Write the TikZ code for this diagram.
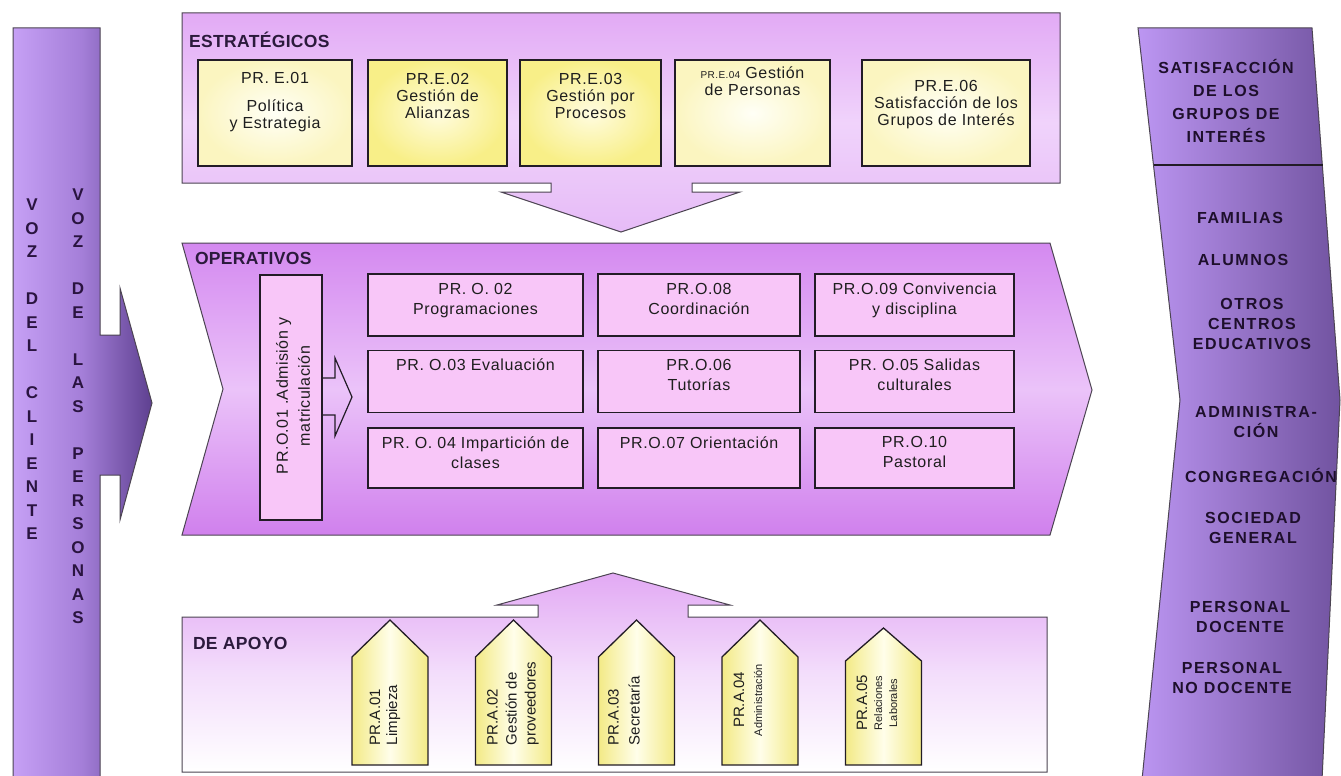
\documentclass[tikz,border=0pt]{standalone}
\usepackage{fontspec}
\setmainfont{Liberation Sans}
\usetikzlibrary{calc}
\definecolor{boxline}{HTML}{221C26}
\definecolor{panelline}{HTML}{4C4452}
\definecolor{txt}{HTML}{1E1E1E}
\definecolor{htxt}{HTML}{2B1A3C}
\definecolor{vtxt}{HTML}{2A1440}
\definecolor{rtxtc}{HTML}{1E0F2C}
\definecolor{barL}{HTML}{C6A0F5}
\definecolor{barM}{HTML}{A47ED8}
\definecolor{barR}{HTML}{5E4090}
\definecolor{rpL}{HTML}{BC96F2}
\definecolor{rpR}{HTML}{7153A0}
\definecolor{estT}{HTML}{E2AAF5}
\definecolor{estM}{HTML}{F0D3FB}
\definecolor{estB}{HTML}{E6BBF7}
\definecolor{opT}{HTML}{D489F0}
\definecolor{opM}{HTML}{EBC3F9}
\definecolor{opB}{HTML}{D080ED}
\definecolor{apT}{HTML}{E2A9F4}
\definecolor{apM}{HTML}{F3DDFB}
\definecolor{obox}{HTML}{F8C6F8}
\definecolor{creamO}{HTML}{FBF5C0}
\definecolor{creamI}{HTML}{FFFFF6}
\definecolor{yelO}{HTML}{F8EF88}
\definecolor{yelI}{HTML}{FFFCE0}
\definecolor{tagY}{HTML}{F3EA86}
\definecolor{tagI}{HTML}{FFFEEA}
\begin{document}
\begin{tikzpicture}[x=1pt,y=-1pt,
  every node/.style={inner sep=0pt,outer sep=0pt,text=txt},
  panel/.style={draw=panelline,line width=1pt},
  ebox/.style={draw=boxline,line width=1.5pt,inner color=creamI,outer color=creamO,minimum height=106pt},
  ybox/.style={ebox,inner color=yelI,outer color=yelO},
  obx/.style={draw=boxline,line width=1.5pt,fill=obox,minimum height=60pt},
  head/.style={font=\bfseries\fontsize{17.5}{20}\selectfont\addfontfeatures{LetterSpace=2},text=htxt,anchor=west},
  btxt/.style={font=\fontsize{16}{17}\selectfont\addfontfeatures{LetterSpace=4},align=center,anchor=north,execute at begin node={\rule{0pt}{12pt}}},
  gtxt/.style={btxt,font=\fontsize{16}{20}\selectfont\addfontfeatures{LetterSpace=4}},
  vl/.style={font=\bfseries\fontsize{17}{17}\selectfont,text=vtxt},
  rtx/.style={font=\bfseries\fontsize{16}{20}\selectfont\addfontfeatures{LetterSpace=10},text=rtxtc,align=center},
  rtxa/.style={rtx,font=\bfseries\fontsize{16}{22.7}\selectfont\addfontfeatures{LetterSpace=10}},
  tagtxt/.style={rotate=90,font=\fontsize{15}{17}\selectfont,align=left,anchor=west},
  tagshape/.style={draw=boxline,line width=1.3pt,left color=tagY,right color=tagY,middle color=tagI},
]
\fill[white] (0,0) rectangle (1341,776);
\useasboundingbox (0,0) rectangle (1341,776);

% left bar with arrow
\shade[panel,left color=barL,right color=barR,middle color=barM]
  (13,28) -- (100,28) -- (100,335) -- (120,335) -- (120,288) -- (152,403)
  -- (120,520) -- (120,475) -- (100,475) -- (100,780) -- (13,780) -- cycle;
\foreach \ch/\k in {V/0,O/1,Z/2,D/4,E/5,L/6,C/8,L/9,I/10,E/11,N/12,T/13,E/14}
  \node[vl] (vc\k) at (32,205+23.5*\k) {\ch};
\foreach \ch/\k in {V/0,O/1,Z/2,D/4,E/5,L/7,A/8,S/9,P/11,E/12,R/13,S/14,O/15,N/16,A/17,S/18}
  \node[vl] (vp\k) at (78,195+23.5*\k) {\ch};

% right panel
\shade[panel,left color=rpL,right color=rpR]
  (1138,28) -- (1312,28) -- (1340,400) -- (1322,780) -- (1142,780) -- (1180,400) -- cycle;
\draw[boxline,line width=1.2pt] (1153.5,165) -- (1322.7,165);
\node[rtxa] (sat) at (1226,101) {SATISFACCIÓN\\DE LOS\\GRUPOS DE\\INTERÉS};
\node[rtx] (g1) at (1240,218) {FAMILIAS};
\node[rtx] (g2) at (1243,260) {ALUMNOS};
\node[rtx] (g3) at (1252,324) {OTROS\\CENTROS\\EDUCATIVOS};
\node[rtx] (g4) at (1256,422) {ADMINISTRA-\\CIÓN};
\node[rtx] (g5) at (1261,475) {CONGREGACIÓN};
\node[rtx] (g6) at (1253,528) {SOCIEDAD\\GENERAL};
\node[rtx] (g7) at (1240,617) {PERSONAL\\DOCENTE};
\node[rtx] (g8) at (1232,678) {PERSONAL\\NO DOCENTE};

% strategic panel
\shade[panel,top color=estT,bottom color=estB,middle color=estM]
  (182,13) -- (1060,13) -- (1060,183) -- (692,183) -- (692,192) -- (740,192)
  -- (621,232) -- (501,192) -- (551,192) -- (551,183) -- (182,183) -- cycle;
\node[head] (hest) at (189,40) {ESTRATÉGICOS};
\node[ebox,minimum width=154pt] (e01) at (275,113) {};
\node[ybox,minimum width=139pt] (e02) at (437.5,113) {};
\node[ybox,minimum width=141pt] (e03) at (590.5,113) {};
\node[ebox,minimum width=155pt] (e04) at (752.5,113) {};
\node[ebox,minimum width=168pt] (e06) at (946,113) {};
\node[btxt] (te01) at ($(e01.north)+(0,12.4)$) {PR. E.01\\[11pt]Política\\y Estrategia};
\node[btxt] (te02) at ($(e02.north)+(0,13.4)$) {PR.E.02\\Gestión de\\Alianzas};
\node[btxt] (te03) at ($(e03.north)+(0,13.4)$) {PR.E.03\\Gestión por\\Procesos};
\node[btxt] (te04) at ($(e04.north)+(0,6.4)$) {{\fontsize{10}{12}\selectfont PR.E.04} Gestión\\de Personas};
\node[btxt] (te06) at ($(e06.north)+(0,20.4)$) {PR.E.06\\Satisfacción de los\\Grupos de Interés};

% operative panel
\shade[panel,top color=opT,bottom color=opB,middle color=opM]
  (182,243) -- (1050,243) -- (1092,390) -- (1050,535) -- (182,535) -- (223,389) -- cycle;
\node[head] (hope) at (195,258) {OPERATIVOS};
\node[obx,minimum width=62pt,minimum height=245pt] (o01) at (291,397.5) {};
\node[rotate=90,align=center,font=\fontsize{16}{22}\selectfont\addfontfeatures{LetterSpace=3}] (t01) at (293,396) {PR.O.01 .Admisión y\\matriculación};
\draw[boxline,line width=1.2pt] ($(o01.east)+(0,-19.5)$) -- ++(13,0) -- ++(0,-20) -- ++(17,39)
  -- ++(-17,39) -- ++(0,-21) -- ++(-13,0);
\node[obx,minimum width=215pt,minimum height=62pt] (o02) at (475.5,305) {};
\node[obx,minimum width=215pt,minimum height=62pt] (o03) at (475.5,381.5) {};
\node[obx,minimum width=215pt] (o04) at (475.5,458) {};
\node[obx,minimum width=202pt,minimum height=62pt] (o08) at (699,305) {};
\node[obx,minimum width=202pt,minimum height=62pt] (o06) at (699,381.5) {};
\node[obx,minimum width=202pt] (o07) at (699,458) {};
\node[obx,minimum width=199pt,minimum height=62pt] (o09) at (914.5,305) {};
\node[obx,minimum width=199pt,minimum height=62pt] (o05) at (914.5,381.5) {};
\node[obx,minimum width=199pt] (o10) at (914.5,458) {};
\node[gtxt] (t02) at ($(o02.north)+(0,9.4)$) {PR. O. 02\\Programaciones};
\node[gtxt] (t03) at ($(o03.north)+(0,8.4)$) {PR. O.03 Evaluación};
\node[gtxt] (t04) at ($(o04.north)+(0,8.4)$) {PR. O. 04 Impartición de\\clases};
\node[gtxt] (t08) at ($(o08.north)+(0,9.4)$) {PR.O.08\\Coordinación};
\node[gtxt] (t06) at ($(o06.north)+(0,8.4)$) {PR.O.06\\Tutorías};
\node[gtxt] (t07) at ($(o07.north)+(0,8.4)$) {PR.O.07 Orientación};
\node[gtxt] (t09) at ($(o09.north)+(0,9.4)$) {PR.O.09 Convivencia\\y disciplina};
\node[gtxt] (t05) at ($(o05.north)+(0,8.4)$) {PR. O.05 Salidas\\culturales};
\node[gtxt] (t10) at ($(o10.north)+(0,8.4)$) {PR.O.10\\Pastoral};

% support panel
\shade[panel,top color=apT,bottom color=white,middle color=apM]
  (182,617) -- (538,617) -- (538,605) -- (497,605) -- (613,573) -- (730,605)
  -- (688,605) -- (688,617) -- (1047,617) -- (1047,772) -- (182,772) -- cycle;
\node[head] (hapo) at (193,643) {DE APOYO};
\foreach \cx/\tp/\sh in {390/620/657,513.5/620/657,636.5/620/657,760/620/657,883.5/628/661}
  \shade[tagshape] (\cx-38,765) -- (\cx-38,\sh) -- (\cx,\tp) -- (\cx+38,\sh) -- (\cx+38,765) -- cycle;
\node[tagtxt] (ta01) at (385,745) {PR.A.01\\Limpieza};
\node[tagtxt,font=\fontsize{15}{19}\selectfont] (ta02) at (513,745) {PR.A.02\\Gestión de\\proveedores};
\node[tagtxt,font=\fontsize{15}{21}\selectfont] (ta03) at (624,745) {PR.A.03\\Secretaría};
\node[rotate=90,align=center,font=\fontsize{11}{18}\selectfont] (ta04) at (748,700) {{\fontsize{15}{18}\selectfont PR.A.04}\\Administración};
\node[rotate=90,align=center,font=\fontsize{11}{15}\selectfont] (ta05) at (877,703) {{\fontsize{15}{15}\selectfont PR.A.05}\\Relaciones\\Laborales};
\end{tikzpicture}
\end{document}
